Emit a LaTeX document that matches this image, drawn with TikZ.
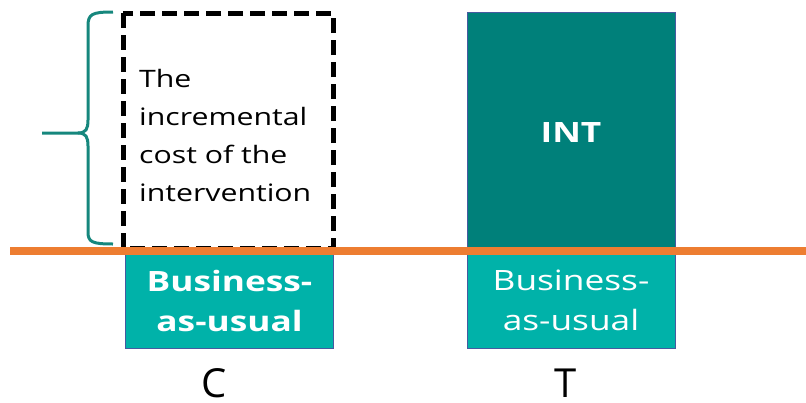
\documentclass[tikz,border=0pt]{standalone}
\usepackage{fontspec}
\setmainfont[FakeStretch=1.26]{Open Sans}
\newfontfamily\armfont{Open Sans}
\usepackage{tikz}
\usetikzlibrary{positioning}

\definecolor{bauteal}{RGB}{0,178,169}
\definecolor{intteal}{RGB}{0,128,122}
\definecolor{baseorange}{RGB}{237,125,49}
\definecolor{bracegreen}{RGB}{22,135,125}
\definecolor{boxedge}{RGB}{70,90,160}

\begin{document}
\begin{tikzpicture}[x=1pt, y=-1pt,
		bar/.style={draw=boxedge, line width=0.8pt, minimum width=208pt, inner sep=0pt, align=center, text=white},
		bau/.style={bar, fill=bauteal, minimum height=95pt, font=\fontsize{28}{40}\selectfont},
		int/.style={bar, fill=intteal, minimum height=235pt, font=\fontsize{28}{35}\selectfont\bfseries},
		arm/.style={font=\armfont\fontsize{40}{44}\selectfont, inner sep=0pt}]
	\useasboundingbox (0,0) rectangle (806,402);
	% business-as-usual boxes
	\node[bau] (bauC) at (229.5,300.5) {\bfseries Business-\\\bfseries as-usual};
	\node[bau] (bauT) at (571,300.5) {Business-\\as-usual};
	% intervention box
	\node[int] (intT) at (571,129.5) {};
	\node[text=white, font=\fontsize{28}{35}\selectfont\bfseries] (intlabel) at (571,133) {INT};
	% dashed incremental cost
	\draw[line width=5pt, dash pattern=on 15pt off 7pt] (123,13) rectangle (333,248);
	\node[anchor=north west, align=left, inner sep=0pt,
		font=\fontsize{24}{38}\selectfont] (cost) at (139,69)
		{The\\incremental\\cost of the\\intervention};
	% brace
	\draw[bracegreen, line width=3pt]
		(113,12) .. controls (92,12) and (88,14) .. (88,26) -- (88,120)
		.. controls (88,129) and (86,133) .. (78,133) -- (42,133);
	\draw[bracegreen, line width=3pt]
		(78,133) .. controls (86,133) and (88,137) .. (88,146) -- (88,232)
		.. controls (88,242) and (92,244) .. (113,244);
	% baseline
	\draw[baseorange, line width=8pt] (10,251) -- (806,251);
	% arm labels
	\node[arm] (armC) at (214,383) {C};
	\node[arm] (armT) at (566,383) {T};
\end{tikzpicture}
\end{document}
